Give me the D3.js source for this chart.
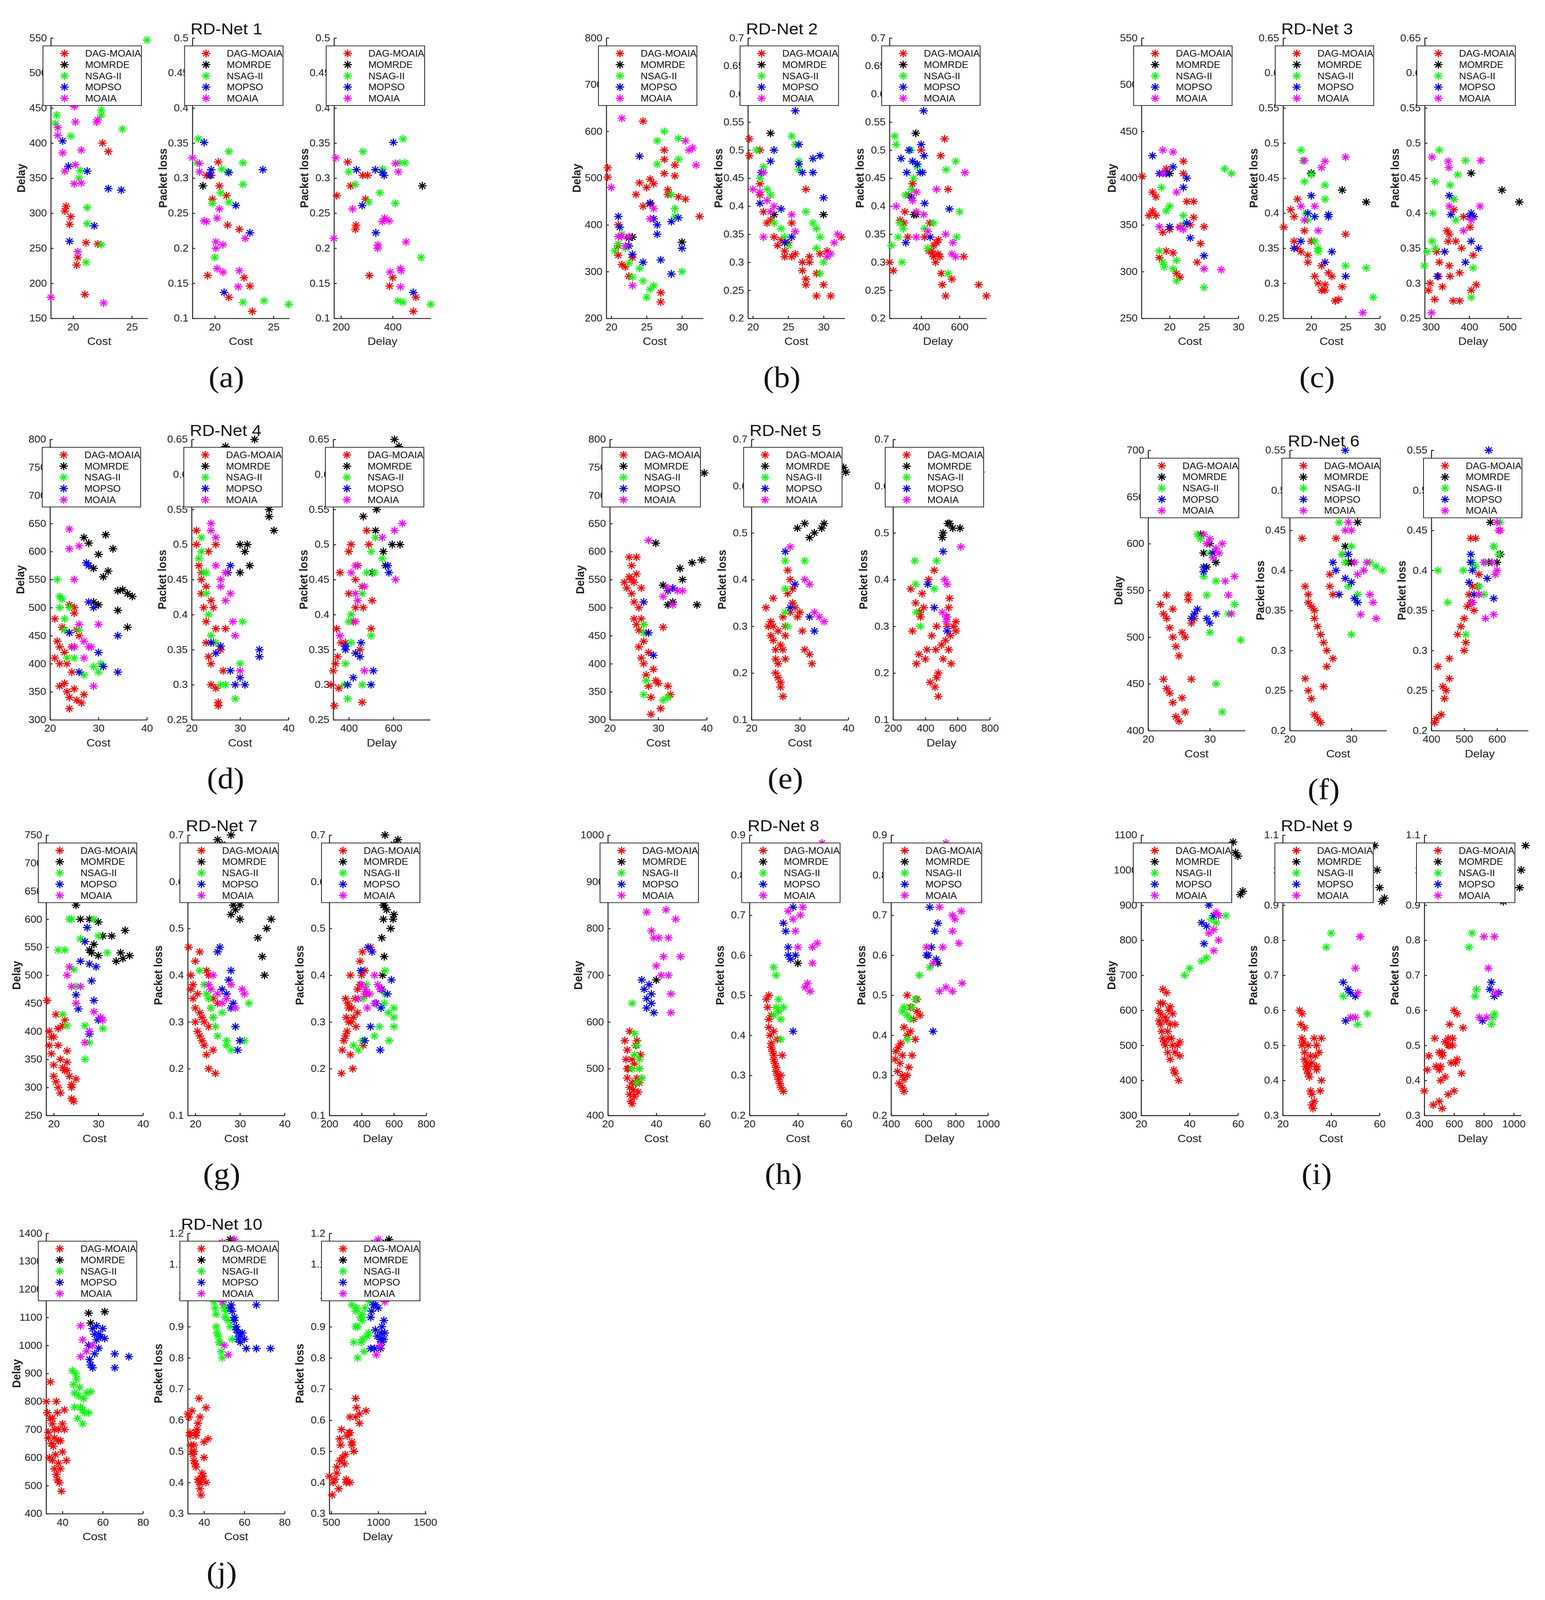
<!DOCTYPE html>
<html>
<head>
<meta charset="utf-8">
<script src="https://cdn.jsdelivr.net/npm/d3@7"></script>
<style>
  html, body { margin: 0; padding: 0; background: #fff; overflow: hidden; }
  #chart { display: block; width: 100vw; height: 100vh; }
  text { font-family: "Liberation Sans", Arial, sans-serif; }
</style>
</head>
<body>
<svg id="chart" viewBox="0 0 3955 4428" preserveAspectRatio="none"></svg>
<script>
// algorithms and colours
const algorithms = ["DAG-MOAIA", "MOMRDE", "NSAG-II", "MOPSO", "MOAIA"];
const colors = ["#ff0000", "#000000", "#00ff00", "#0000ff", "#ff00ff"];
const panelLabels = ["(a)", "(b)", "(c)", "(d)", "(e)", "(f)", "(g)", "(h)", "(i)", "(j)"];

// axis domains per net: cost, delay, loss, delay as x
const costDomains = [[18.1, 26.35], [19.3, 33], [15.9, 30], [20, 40], [20, 40], [20, 35.7], [18.3, 40], [20, 60], [20, 60], [31.9, 80]];
const delayDomains = [[150, 550], [200, 800], [250, 550], [300, 800], [300, 800], [400, 700], [250, 750], [400, 1000], [300, 1100], [400, 1400]];
const lossDomains = [[0.1, 0.5], [0.2, 0.7], [0.25, 0.65], [0.25, 0.65], [0.1, 0.7], [0.2, 0.55], [0.1, 0.7], [0.2, 0.9], [0.3, 1.1], [0.3, 1.2]];
const delayXDomains = [[173, 548], [235, 740], [284, 536], [330, 765], [200, 800], [400, 695], [200, 800], [400, 1000], [400, 1050], [480, 1510]];

// tick labels
const costTicks = [[20, 25], [20, 25, 30], [20, 25, 30], [20, 30, 40], [20, 30, 40], [20, 30], [20, 30, 40], [20, 40, 60], [20, 40, 60], [40, 60, 80]];
const delayXTicks = [[200, 400], [400, 600], [300, 400, 500], [400, 600], [200, 400, 600, 800], [400, 500, 600], [200, 400, 600, 800], [400, 600, 800, 1000], [400, 600, 800, 1000], [500, 1000, 1500]];
const delayStep = [50, 100, 50, 50, 50, 50, 50, 100, 100, 100];
const lossStep = [0.05, 0.05, 0.05, 0.05, 0.1, 0.05, 0.1, 0.1, 0.1, 0.1];

// solutions [cost, delay, packet loss] per net, per algorithm
const net1 = [
  [[22.5,400,0.158],[23,388,0.146],[19.3,303,0.304],[19.8,295,0.27],[19.7,284,0.304],[21.1,258,0.233],[22.1,256,0.227],[20.4,237,0.289],[20.3,226,0.323],[21,184,0.275],[23.2,480,0.11],[21.2,490,0.13],[19.4,310,0.161]],
  [[19,515,0.289]],
  [[26.3,547,0.12],[18.6,440,0.356],[18.5,428,0.322],[22.4,447,0.322],[24.2,420,0.125],[19.8,410,0.264],[20.6,361,0.313],[20.5,350,0.279],[21.2,308,0.266],[21.1,230,0.309],[22.4,255,0.291],[21.2,285,0.338],[20,510,0.187],[22.4,440,0.123]],
  [[19.1,403,0.351],[19.6,367,0.304],[21.2,360,0.308],[24.1,333,0.312],[21.8,282,0.261],[23,335,0.222],[20.8,480,0.137],[19.7,260,0.312]],
  [[18.1,180,0.329],[20.1,452,0.209],[18.7,422,0.309],[18.7,411,0.321],[19.1,386,0.239],[20.2,369,0.243],[19.3,360,0.238],[20.1,342,0.2],[20.7,343,0.205],[22.1,433,0.168],[20.4,245,0.256],[22.6,172,0.214],[20.2,430,0.171],[22,430,0.145],[20.7,390,0.166]]
];
const net2 = [
  [[19.5,522,0.52],[19.5,502,0.49],[21,355,0.44],[21,335,0.42],[21.5,315,0.39],[22,310,0.37],[22.5,290,0.375],[23,330,0.345],[23.5,465,0.33],[24,490,0.34],[24.5,440,0.32],[24.5,622,0.31],[25,480,0.335],[25.5,498,0.31],[25.5,445,0.37],[26,488,0.315],[27,255,0.285],[27,235,0.3],[27.5,540,0.43],[27.5,560,0.27],[27.5,510,0.26],[28,475,0.3],[28,465,0.31],[29,528,0.24],[29,505,0.28],[29.5,460,0.315],[30.5,455,0.32],[32.5,418,0.345],[21,400,0.5],[30,700,0.26],[31,740,0.24]],
  [[23,374,0.385],[22.5,372,0.53],[30,363,0.385]],
  [[20.5,345,0.5],[21,360,0.45],[21.5,380,0.47],[22,350,0.43],[22.5,318,0.42],[23,288,0.37],[24,307,0.36],[24.5,280,0.345],[25,245,0.33],[25.5,262,0.525],[26,270,0.51],[26.5,580,0.48],[26.5,530,0.465],[27.5,600,0.39],[28.5,465,0.37],[29,435,0.325],[29,418,0.36],[29.5,585,0.345],[29.5,540,0.28],[30,300,0.3]],
  [[21,418,0.405],[21.2,395,0.46],[22.5,355,0.48],[23,337,0.5],[24,547,0.395],[24.5,320,0.335],[25.5,447,0.345],[26,413,0.57],[26.5,400,0.51],[26.5,380,0.475],[27,325,0.46],[28.5,407,0.46],[29.5,415,0.49],[30,350,0.415],[28.5,295,0.485]],
  [[20,480,0.43],[21,375,0.425],[21.5,628,0.46],[22,355,0.41],[22.5,375,0.39],[23,270,0.4],[25.5,413,0.385],[26,435,0.355],[30.5,580,0.31],[31,560,0.315],[31.5,565,0.335],[32,528,0.35],[21.5,375,0.345]]
];
const net3 = [
  [[16,402,0.38],[17,360,0.405],[17.5,385,0.395],[17.5,365,0.36],[18,380,0.35],[18,360,0.42],[18.5,315,0.345],[19,342,0.375],[19.5,322,0.33],[19.5,410,0.34],[20,345,0.36],[20.5,320,0.31],[21,298,0.3],[21.5,348,0.325],[21.5,294,0.29],[22,418,0.298],[22,405,0.29],[22.5,375,0.315],[23,350,0.31],[23.5,375,0.275],[23.5,358,0.275],[24,310,0.277],[24.5,330,0.295],[25,348,0.37]],
  [[20,405,0.457],[24.5,485,0.433],[28,530,0.416]],
  [[18.5,322,0.49],[18.8,390,0.475],[19,310,0.445],[19.2,305,0.4],[19.5,365,0.39],[20,370,0.455],[20.5,303,0.36],[21,312,0.35],[21,290,0.345],[22,350,0.44],[22,360,0.42],[25,283,0.325],[28,410,0.322],[29,405,0.28]],
  [[17.5,424,0.35],[18.5,405,0.36],[19.5,405,0.4],[20,348,0.425],[20.5,412,0.395],[22,390,0.33],[22.5,352,0.398],[22.5,400,0.395],[23,336,0.345],[25,317,0.31]],
  [[18.5,348,0.41],[19,405,0.39],[19,430,0.475],[20.5,428,0.41],[21,385,0.375],[21.5,347,0.465],[22,345,0.474],[25,303,0.48],[27.5,302,0.258]]
];
const net4 = [
  [[21,480,0.52],[21,410,0.5],[21.5,440,0.47],[22,430,0.45],[22,400,0.43],[22.5,465,0.41],[23,420,0.39],[23,365,0.36],[23.5,350,0.34],[24,340,0.33],[24,320,0.3],[24.5,385,0.36],[25,500,0.38],[25,355,0.295],[25.5,460,0.275],[25.5,335,0.27],[26,450,0.35],[26.5,330,0.32],[27,345,0.38],[24,505,0.42],[23,460,0.44],[22,360,0.46],[23.5,400,0.49],[25,490,0.5],[24.5,430,0.41]],
  [[27,625,0.64],[28,615,0.6],[29,570,0.62],[30,595,0.5],[31,555,0.49],[31.5,630,0.5],[32,565,0.47],[33,605,0.65],[34,530,0.58],[34,495,0.6],[35,532,0.62],[36,525,0.55],[36,465,0.54],[37,520,0.52],[29,510,0.63],[30,505,0.46]],
  [[21.5,550,0.48],[22,520,0.51],[22,500,0.49],[22.5,515,0.46],[23,480,0.46],[23,460,0.43],[23.5,410,0.4],[24,500,0.37],[25,410,0.36],[26,460,0.3],[27,380,0.3],[29,395,0.28],[30,385,0.33],[30.5,400,0.39]],
  [[24,455,0.36],[25,430,0.345],[26,385,0.355],[27.5,580,0.46],[28,575,0.47],[28,510,0.32],[29,500,0.3],[30,420,0.31],[31,395,0.3],[34,385,0.35],[34,450,0.34]],
  [[24,640,0.53],[24,605,0.52],[25,550,0.51],[25,430,0.47],[26,610,0.45],[26,470,0.44],[27,440,0.42],[27,410,0.46],[28,430,0.43],[28.5,430,0.39],[29,360,0.37],[30,470,0.32]]
];
const net5 = [
  [[23,545,0.34],[23.5,535,0.3],[24,590,0.31],[24,555,0.28],[24.5,550,0.36],[24.5,525,0.27],[25,545,0.25],[25,510,0.23],[25,480,0.2],[25.5,560,0.22],[25.5,470,0.19],[26,460,0.17],[26,500,0.26],[26,430,0.18],[26.5,480,0.15],[26.5,410,0.25],[27,470,0.3],[27,440,0.28],[27,400,0.23],[27.5,455,0.42],[27.5,380,0.37],[28,420,0.4],[28,360,0.33],[28.5,340,0.35],[28.5,310,0.38],[29,390,0.34],[29.5,370,0.32],[30,365,0.33],[30.5,320,0.29],[31,465,0.25],[32,360,0.24],[32.5,345,0.22],[24.5,575,0.3],[25.5,590,0.29],[26.5,535,0.32]],
  [[29.5,615,0.51],[31,540,0.52],[32,505,0.49],[33,510,0.5],[34.5,570,0.51],[35,550,0.52],[37,580,0.6],[38,505,0.62],[39,585,0.64],[39.5,740,0.63]],
  [[27,470,0.44],[27,455,0.38],[27,345,0.33],[27.5,370,0.3],[31,335,0.44],[32,340,0.39]],
  [[27,510,0.46],[28,455,0.34],[29,415,0.39],[32,530,0.32],[33,535,0.29]],
  [[28,620,0.47],[31,520,0.4],[32,535,0.39],[33,505,0.33],[34,530,0.32],[35,530,0.31]]
];
const net6 = [
  [[22,535,0.44],[22.5,525,0.38],[23,545,0.37],[23,520,0.36],[23.5,510,0.355],[24,530,0.35],[24,500,0.34],[24.5,490,0.33],[25,480,0.32],[25.5,505,0.31],[26,500,0.3],[26.5,540,0.38],[27,515,0.37],[27,455,0.29],[22.5,455,0.265],[23,445,0.25],[23.5,440,0.24],[24,430,0.22],[24.5,415,0.215],[25,410,0.21],[25.5,435,0.255],[26,420,0.28],[27.5,520,0.44],[26.5,545,0.395]],
  [[28.5,610,0.42],[29,590,0.43],[29.5,575,0.41],[30,600,0.41],[31,580,0.46]],
  [[28,610,0.46],[28.5,605,0.42],[29,565,0.41],[29.5,545,0.38],[30,505,0.32],[31,450,0.36],[32,420,0.4],[33,525,0.41],[34,535,0.405],[35,497,0.4],[31,560,0.37],[30,590,0.43]],
  [[27,520,0.41],[27.5,525,0.4],[28,530,0.37],[29,570,0.39],[29.5,520,0.42],[30,515,0.385],[30.5,590,0.365],[31,525,0.36],[29,575,0.55]],
  [[29,610,0.45],[29.5,600,0.46],[30,605,0.45],[30.5,585,0.41],[31,595,0.395],[32,600,0.4],[32.5,560,0.41],[33,545,0.37],[34,565,0.34],[31.5,590,0.345],[33.5,525,0.36]]
];
const net7 = [
  [[18.5,455,0.46],[19,400,0.4],[19.5,390,0.38],[19.5,360,0.35],[20,340,0.33],[20,320,0.3],[20.5,430,0.36],[20.5,310,0.28],[21,375,0.32],[21,300,0.27],[21.5,350,0.31],[21.5,290,0.26],[22,335,0.3],[22,410,0.25],[22.5,330,0.23],[23,345,0.2],[23,365,0.29],[23.5,320,0.33],[24,305,0.31],[24,280,0.24],[24.5,275,0.19],[25,315,0.34],[20,390,0.43],[21,405,0.45],[19,375,0.37],[22.5,420,0.41],[23,330,0.4],[24,300,0.35]],
  [[25,625,0.69],[26,600,0.68],[27,560,0.6],[28,600,0.53],[28.5,540,0.55],[29,555,0.54],[30,595,0.52],[30,535,0.55],[31,570,0.57],[33,570,0.57],[34,525,0.48],[35,540,0.44],[35.5,530,0.4],[36,580,0.5],[37,535,0.52],[28,545,0.7]],
  [[21,545,0.41],[22,430,0.38],[22.5,545,0.36],[23,410,0.35],[23.5,600,0.33],[24,600,0.31],[24.5,510,0.29],[25,480,0.27],[26,565,0.32],[27,410,0.26],[27,350,0.25],[28,380,0.24],[29,600,0.29],[30,570,0.26],[31,405,0.26],[32,540,0.34]],
  [[25,465,0.45],[25.5,440,0.46],[26,525,0.37],[27,560,0.36],[27.5,585,0.39],[28,520,0.33],[28.5,490,0.34],[29,455,0.29],[30,420,0.26],[28,395,0.41],[29.5,515,0.24]],
  [[23,500,0.38],[23.5,515,0.37],[24,480,0.4],[25,450,0.36],[26,480,0.34],[27,380,0.35],[28,400,0.38],[29,435,0.33],[30.5,425,0.37],[31,420,0.36]]
];
const net8 = [
  [[27,560,0.49],[27.5,520,0.47],[28,540,0.44],[28,480,0.42],[28.5,500,0.4],[29,460,0.38],[29,445,0.37],[29.5,430,0.36],[30,470,0.35],[30,425,0.34],[30.5,455,0.33],[31,510,0.32],[31,440,0.31],[31.5,470,0.3],[32,480,0.29],[32.5,450,0.28],[33,500,0.3],[33,470,0.27],[34,480,0.26],[29,580,0.45],[32,560,0.46],[30,520,0.41],[31.5,550,0.39],[28,500,0.5],[33.5,530,0.35]],
  [[40,690,0.58]],
  [[30,500,0.45],[31,530,0.47],[32,550,0.49],[32,470,0.46],[33,520,0.44],[33,500,0.39],[34,480,0.47],[31,575,0.55],[30,640,0.57]],
  [[34,690,0.68],[35,670,0.66],[36,650,0.62],[36,630,0.6],[37,680,0.59],[38,660,0.41],[38,640,0.72],[39,620,0.6]],
  [[36,835,0.71],[38,795,0.69],[39,780,0.66],[40,720,0.62],[41,780,0.7],[42,700,0.72],[43,740,0.52],[44,840,0.53],[45,700,0.51],[45,780,0.51],[46,660,0.58],[46,620,0.62],[48,820,0.63],[50,740,0.88]]
];
const net9 = [
  [[27,600,0.6],[27.5,570,0.56],[28,560,0.52],[28,590,0.5],[28.5,540,0.51],[29,520,0.48],[29,620,0.46],[29.5,510,0.44],[30,580,0.45],[30,500,0.43],[30.5,650,0.42],[31,480,0.44],[31,540,0.41],[31.5,600,0.37],[32,560,0.36],[32,460,0.33],[32.5,520,0.32],[33,500,0.34],[33,590,0.52],[33.5,430,0.47],[34,480,0.44],[34,420,0.43],[35,500,0.48],[35.5,400,0.37],[36,470,0.52],[36,510,0.4],[28,620,0.59],[29,660,0.55],[30.5,570,0.5],[31.5,520,0.47],[32,610,0.45],[34,560,0.5]],
  [[60,1040,0.95],[58,1080,1.07],[62,940,0.92],[59,1050,1.0],[61,930,0.91]],
  [[38,700,0.78],[40,720,0.82],[45,740,0.64],[47,750,0.66],[49,860,0.58],[51,850,0.56],[55,870,0.59]],
  [[45,850,0.68],[47,840,0.66],[48,900,0.65],[50,870,0.64],[46,790,0.57]],
  [[50,830,0.72],[51,880,0.65],[52,870,0.81],[52,800,0.81],[48,820,0.58],[50,770,0.58]]
];
const net10 = [
  [[32,800,0.62],[32.5,760,0.61],[33,690,0.56],[33,670,0.55],[34,870,0.63],[34,740,0.5],[34.5,650,0.49],[35,720,0.52],[35,590,0.47],[35.5,640,0.46],[36,560,0.45],[36,670,0.55],[36.5,610,0.57],[37,540,0.41],[37,800,0.59],[37.5,520,0.4],[37.5,760,0.67],[38,580,0.38],[38,700,0.61],[38.5,510,0.36],[39,660,0.41],[39,560,0.43],[39.5,480,0.42],[40,720,0.53],[40,620,0.48],[41,700,0.4],[41,770,0.64],[42,590,0.54],[35,740,0.5],[36,700,0.56],[38,660,0.4],[33.5,600,0.52]],
  [[53,1115,1.18],[54,1080,1.17],[61,1120,1.15]],
  [[45,910,0.98],[45.5,860,0.96],[46,830,0.94],[46,780,0.9],[46.5,900,0.88],[47,880,0.87],[47.5,740,0.85],[48,820,0.85],[48.5,850,0.82],[49,780,0.8],[50,770,0.96],[50,720,0.97],[51,760,0.95],[52,830,0.92],[53,760,0.9],[54,835,0.86],[50.5,810,0.93]],
  [[53,1000,0.96],[53.5,950,0.97],[54,930,0.95],[55,920,0.93],[55,1060,0.92],[56,1040,0.9],[56,970,0.89],[57,1070,0.88],[57,1020,0.86],[58,1040,0.85],[58,990,0.87],[59,1030,0.88],[60,1060,0.86],[61,1025,0.83],[66,970,0.97],[66,920,0.83],[73,960,0.83]],
  [[49,1070,0.98],[50,1020,0.84],[52,980,0.81],[55,1000,1.18],[49,960,1.17]]
];
const nets = [net1, net2, net3, net4, net5, net6, net7, net8, net9, net10];

// group origins (left edge of first axes, top of axes)
const origins = [[130,105],[1552,105],[2922,105],[128,1216],[1561,1216],[2939,1246],[118,2311],[1556,2311],[2921,2311],[118,3413]];

const panelW = 248, panelH = 776, panelGap = 362.5;
const svg = d3.select("#chart");

function star(g, x, y, color) {
  const r = 11, q = r * 0.7;
  g.append("path")
    .attr("d", `M${x - r},${y}H${x + r}M${x},${y - r}V${y + r}M${x - q},${y - q}L${x + q},${y + q}M${x - q},${y + q}L${x + q},${y - q}`)
    .attr("stroke", color)
    .attr("stroke-width", 3)
    .attr("fill", "none");
}

function rangeTicks(domain, step) {
  const t = [];
  const n = Math.round((domain[1] - domain[0]) / step);
  for (let i = 0; i <= n; i++) t.push(+(domain[0] + i * step).toFixed(4));
  return t;
}

function drawNet(k) {
  const [ox, oy] = origins[k];
  const data = nets[k];
  const delayTicks = rangeTicks(delayDomains[k], delayStep[k]);
  const lossTicks = rangeTicks(lossDomains[k], lossStep[k]);
  const panels = [
    { xd: costDomains[k], xt: costTicks[k], yd: delayDomains[k], yt: delayTicks, xi: 0, yi: 1, xl: "Cost", yl: "Delay" },
    { xd: costDomains[k], xt: costTicks[k], yd: lossDomains[k], yt: lossTicks, xi: 0, yi: 2, xl: "Cost", yl: "Packet loss" },
    { xd: delayXDomains[k], xt: delayXTicks[k], yd: lossDomains[k], yt: lossTicks, xi: 1, yi: 2, xl: "Delay", yl: "Packet loss" }
  ];

  panels.forEach((p, i) => {
    const g = svg.append("g").attr("transform", `translate(${ox + i * panelGap},${oy})`);
    const x = d3.scaleLinear().domain(p.xd).range([0, panelW]);
    const y = d3.scaleLinear().domain(p.yd).range([panelH, 0]);
    const fmt = d3.format("~g");

    const xa = g.append("g").attr("transform", `translate(0,${panelH})`)
      .call(d3.axisBottom(x).tickValues(p.xt).tickFormat(fmt).tickSizeInner(-7).tickSizeOuter(0).tickPadding(14));
    const ya = g.append("g")
      .call(d3.axisLeft(y).tickValues(p.yt).tickFormat(fmt).tickSizeInner(-7).tickSizeOuter(0).tickPadding(10));
    [xa, ya].forEach(a => {
      a.selectAll("path, line").attr("stroke", "#222").attr("stroke-width", 2.5);
      a.selectAll("text").attr("font-size", 27).attr("fill", "#222");
    });

    g.append("text").attr("x", panelW / 2).attr("y", panelH + 74)
      .attr("text-anchor", "middle").attr("font-size", 30).attr("fill", "#222").text(p.xl);
    g.append("text").attr("transform", `translate(-66,${panelH / 2}) rotate(-90)`)
      .attr("text-anchor", "middle").attr("font-size", 30).attr("font-weight", "bold").attr("fill", "#222").text(p.yl);

    data.forEach((series, s) => {
      series.forEach(d => star(g, x(d[p.xi]), y(d[p.yi]), colors[s]));
    });

    // legend
    const lg = g.append("g").attr("transform", "translate(-20,22)");
    lg.append("rect").attr("width", 252).attr("height", 165)
      .attr("fill", "#fff").attr("stroke", "#222").attr("stroke-width", 2);
    algorithms.forEach((name, s) => {
      const ly = 21 + s * 31;
      star(lg, 55, ly, colors[s]);
      lg.append("text").attr("x", 108).attr("y", ly + 9)
        .attr("font-size", 25).attr("fill", "#111").text(name);
    });
  });

  svg.append("text").attr("x", ox + panelGap + 87).attr("y", oy - 10)
    .attr("text-anchor", "middle").attr("font-size", 44).attr("fill", "#111").text("RD-Net " + (k + 1));
  svg.append("text").attr("x", ox + panelGap + 87).attr("y", oy + 966)
    .attr("text-anchor", "middle").attr("font-size", 82)
    .style("font-family", "'Liberation Serif', 'Times New Roman', serif").attr("fill", "#111").text(panelLabels[k]);
}

nets.forEach((n, k) => drawNet(k));
</script>
</body>
</html>
